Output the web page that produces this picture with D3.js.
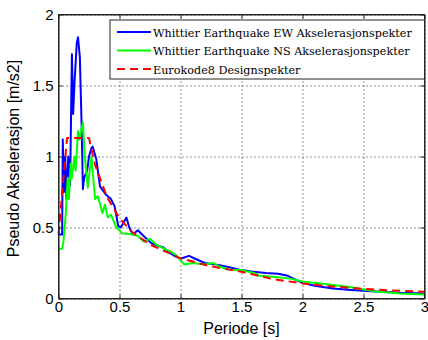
<!DOCTYPE html>
<meta charset="utf-8">
<script src="https://d3js.org/d3.v7.min.js"></script>
<style>
  body { margin: 0; background: #fff; }
  .axis text { font-family: "Liberation Sans", Arial, sans-serif; font-size: 15px; fill: #000; }
  .axis path, .axis line { stroke: #262626; }
  .grid line { stroke: #262626; stroke-dasharray: 1,3; }
  .grid path { display: none; }
</style>
<body></body>
<script>

// data
var xTicks = [0, 0.5, 1, 1.5, 2, 2.5, 3];
var yTicks = [0, 0.5, 1, 1.5, 2];

var ewT = [0, 0.03, 0.035, 0.045, 0.055, 0.065, 0.08, 0.095, 0.11, 0.12, 0.13, 0.15, 0.16, 0.175, 0.19, 0.2, 0.21, 0.235, 0.25, 0.27, 0.28, 0.31, 0.34, 0.39, 0.43, 0.46, 0.49, 0.51, 0.557, 0.58, 0.61, 0.65, 0.71, 0.76, 0.82, 0.86, 0.9, 0.95, 1.0, 1.07, 1.12, 1.2, 1.32, 1.4, 1.5, 1.58, 1.7, 1.8, 1.88, 1.95, 2.0, 2.1, 2.25, 2.4, 2.6, 2.8, 3.0];
var ewA = [0.45, 0.45, 1.12, 0.75, 1.0, 0.7, 1.0, 0.8, 1.72, 1.3, 1.5, 1.8, 1.84, 1.7, 1.2, 0.77, 0.85, 0.9, 1.0, 1.06, 1.07, 0.98, 0.79, 0.73, 0.7, 0.65, 0.51, 0.5, 0.57, 0.5, 0.45, 0.48, 0.43, 0.39, 0.37, 0.36, 0.33, 0.3, 0.28, 0.3, 0.28, 0.25, 0.235, 0.22, 0.2, 0.19, 0.18, 0.175, 0.16, 0.13, 0.11, 0.09, 0.07, 0.06, 0.05, 0.04, 0.035];

var nsT = [0, 0.03, 0.04, 0.06, 0.075, 0.085, 0.1, 0.11, 0.13, 0.14, 0.16, 0.17, 0.2, 0.215, 0.24, 0.27, 0.285, 0.3, 0.32, 0.34, 0.36, 0.38, 0.405, 0.43, 0.475, 0.52, 0.61, 0.65, 0.7, 0.75, 0.8, 0.87, 0.92, 0.97, 1.03, 1.1, 1.2, 1.27, 1.33, 1.43, 1.5, 1.6, 1.65, 1.8, 1.9, 2.0, 2.2, 2.4, 2.6, 2.8, 3.0];
var nsA = [0.35, 0.35, 0.4, 0.6, 0.85, 0.7, 0.95, 0.85, 1.0, 0.9, 1.18, 1.12, 1.24, 1.0, 0.78, 1.0, 0.85, 0.7, 0.72, 0.67, 0.6, 0.66, 0.57, 0.59, 0.5, 0.46, 0.45, 0.44, 0.4, 0.42, 0.38, 0.35, 0.33, 0.3, 0.24, 0.25, 0.24, 0.25, 0.22, 0.2, 0.2, 0.18, 0.16, 0.15, 0.14, 0.12, 0.1, 0.08, 0.05, 0.035, 0.028];

var ecT = [0, 0.07, 0.25, 0.3, 0.4, 0.5, 0.6, 0.75, 1.0, 1.25, 1.5, 1.75, 2.0, 2.25, 2.5, 2.75, 3.0];
var ecA = [0.45, 1.13, 1.13, 0.94, 0.71, 0.565, 0.47, 0.38, 0.283, 0.226, 0.188, 0.138, 0.106, 0.084, 0.068, 0.056, 0.047];

var legendLabels = ["Whittier Earthquake EW Akselerasjonspekter", "Whittier Earthquake NS Akselerasjonspekter", "Eurokode8 Designspekter"];
var colors = ["#0000ff", "#00ff00", "#ff0000"];

var margin = {top: 14.5, right: 3.5, bottom: 41.5, left: 58.5};
var width = 428 - margin.left - margin.right;
var height = 340 - margin.top - margin.bottom;

var svg = d3.select("body").append("svg")
    .attr("width", 428)
    .attr("height", 340)
    .append("g")
    .attr("transform", "translate(" + margin.left + "," + margin.top + ")");

var xScale = d3.scaleLinear().domain([0, 3]).range([0, width]);
var yScale = d3.scaleLinear().domain([0, 2]).range([height, 0]);

// grid
svg.append("g").attr("class", "grid")
    .attr("transform", "translate(0," + height + ")")
    .call(d3.axisBottom(xScale).tickValues(xTicks).tickSize(-height).tickFormat(""));
svg.append("g").attr("class", "grid")
    .call(d3.axisLeft(yScale).tickValues(yTicks).tickSize(-width).tickFormat(""));

// curves
var series = [[ewT, ewA], [nsT, nsA], [ecT, ecA]];
var line = d3.line()
    .x(function(d) { return xScale(d[0]); })
    .y(function(d) { return yScale(d[1]); });

series.forEach(function(s, i) {
    var pts = s[0].map(function(t, j) { return [t, s[1][j]]; });
    svg.append("path")
        .datum(pts)
        .attr("d", line)
        .attr("fill", "none")
        .attr("stroke", colors[i])
        .attr("stroke-width", 2)
        .attr("stroke-linejoin", "round")
        .attr("stroke-dasharray", i == 2 ? "8,5" : null);
});

// box and axes
svg.append("rect")
    .attr("width", width).attr("height", height)
    .attr("fill", "none").attr("stroke", "#262626");

svg.append("g").attr("class", "axis")
    .attr("transform", "translate(0," + height + ")")
    .call(d3.axisBottom(xScale).tickValues(xTicks).tickSizeInner(-4).tickSizeOuter(0).tickPadding(3).tickFormat(d3.format("")));
svg.append("g").attr("class", "axis")
    .call(d3.axisLeft(yScale).tickValues(yTicks).tickSizeInner(-4).tickSizeOuter(0).tickPadding(5).tickFormat(d3.format("")));
svg.append("g").attr("class", "axis")
    .call(d3.axisTop(xScale).tickValues(xTicks).tickSizeInner(-4).tickSizeOuter(0).tickFormat(""));
svg.append("g").attr("class", "axis")
    .attr("transform", "translate(" + width + ",0)")
    .call(d3.axisRight(yScale).tickValues(yTicks).tickSizeInner(-4).tickSizeOuter(0).tickFormat(""));

// axis labels
svg.append("text")
    .attr("x", width / 2)
    .attr("y", height + 35)
    .attr("text-anchor", "middle")
    .style("font-family", "Liberation Sans, Arial, sans-serif")
    .style("font-size", "16px")
    .text("Periode [s]");

svg.append("text")
    .attr("transform", "translate(" + (-40) + "," + (height / 2 + 2) + ") rotate(-90)")
    .attr("text-anchor", "middle")
    .style("font-family", "Liberation Sans, Arial, sans-serif")
    .style("font-size", "16px")
    .text("Pseudo Akselerasjon [m/s2]");

// legend
var lx = 110 - margin.left, ly = 20 - margin.top;
var legend = svg.append("g").attr("transform", "translate(" + lx + "," + ly + ")");
legend.append("rect")
    .attr("width", 424.5 - 110).attr("height", 59)
    .attr("fill", "#fff").attr("stroke", "#262626");

var legendTexts = [];
legendLabels.forEach(function(lab, i) {
    var y = 12 + i * 18.5;
    legend.append("line")
        .attr("x1", 7).attr("x2", 41).attr("y1", y).attr("y2", y)
        .attr("stroke", colors[i]).attr("stroke-width", 2)
        .attr("stroke-dasharray", i == 2 ? "8,5" : null);
    legendTexts.push(legend.append("text")
        .attr("x", 43).attr("y", y + 4.5)
        .style("font-family", "DejaVu Serif, serif")
        .style("font-size", "12px")
        .text(lab));
});

// shrink legend font so the longest entry fits the box like in the original
var w0 = legendTexts[0].node().getComputedTextLength();
var fs = Math.min(12, 12 * 259 / w0);
legendTexts.forEach(function(t) { t.style("font-size", fs + "px"); });

</script>
